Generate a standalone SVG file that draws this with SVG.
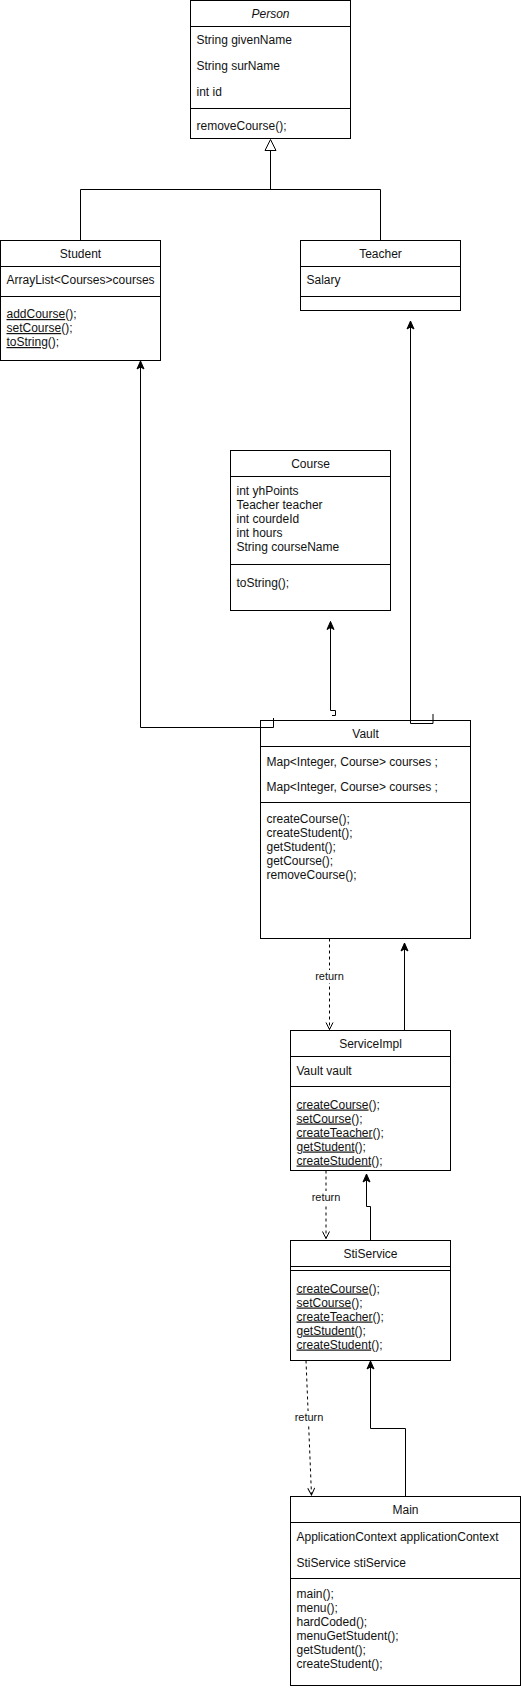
<svg xmlns="http://www.w3.org/2000/svg" width="521" height="1690" viewBox="0 0 521 1690">
<style>
  .box{fill:#fff;stroke:#000;stroke-width:1}
  .div{stroke:#000;stroke-width:1;fill:none}
  text{font-family:"Liberation Sans",Arial,sans-serif;font-size:12px;fill:#111}
  .hd{text-anchor:middle}
  .it{font-style:italic}
  .u{text-decoration:underline}
  .edge{fill:none;stroke:#000;stroke-width:1}
  .dash{stroke-dasharray:3 3}
  .lbl{font-size:11px;text-anchor:middle}
</style>
<defs>
  <marker id="arr" markerUnits="userSpaceOnUse" markerWidth="10" markerHeight="10" viewBox="0 0 10 10" refX="9" refY="5" orient="auto">
    <path d="M1,1.5 L9,5 L1,8.5 L3,5 Z" fill="#000" stroke="#000" stroke-width="1"/>
  </marker>
  <marker id="open" markerUnits="userSpaceOnUse" markerWidth="10" markerHeight="10" viewBox="0 0 10 10" refX="9" refY="5" orient="auto">
    <path d="M2,1.5 L9,5 L2,8.5" fill="none" stroke="#000" stroke-width="1"/>
  </marker>
</defs>
<rect width="521" height="1690" fill="#fff"/>

<g id="person">
  <rect class="box" x="190.5" y="0.5" width="160" height="138"/>
  <path class="div" d="M190.5,26.5 H350.5 M190.5,108.5 H350.5"/>
  <text class="hd it" x="270.5" y="17.5">Person</text>
  <text x="196.5" y="43.5">String givenName</text>
  <text x="196.5" y="69.5">String surName</text>
  <text x="196.5" y="95.5">int id</text>
  <text x="196.5" y="130">removeCourse();</text>
</g>

<g id="student">
  <rect class="box" x="0.5" y="240.5" width="160" height="120"/>
  <path class="div" d="M0.5,266.5 H160.5 M0.5,296.5 H160.5"/>
  <text class="hd" x="80.5" y="257.5">Student</text>
  <text x="6.5" y="284">ArrayList&lt;Courses&gt;courses</text>
  <text x="6.5" y="318"><tspan class="u">addCourse</tspan>();</text>
  <text x="6.5" y="332"><tspan class="u">setCourse</tspan>();</text>
  <text x="6.5" y="346"><tspan class="u">toString</tspan>();</text>
</g>

<g id="teacher">
  <rect class="box" x="300.5" y="240.5" width="160" height="70"/>
  <path class="div" d="M300.5,266.5 H460.5 M300.5,296.5 H460.5"/>
  <text class="hd" x="380.5" y="257.5">Teacher</text>
  <text x="306.5" y="284">Salary</text>
</g>

<g id="course">
  <rect class="box" x="230.5" y="450.5" width="160" height="160"/>
  <path class="div" d="M230.5,476.5 H390.5 M230.5,564.5 H390.5"/>
  <text class="hd" x="310.5" y="467.5">Course</text>
  <text x="236.5" y="494.5">int yhPoints</text>
  <text x="236.5" y="508.5">Teacher teacher</text>
  <text x="236.5" y="522.5">int courdeId</text>
  <text x="236.5" y="536.5">int hours</text>
  <text x="236.5" y="550.5">String courseName</text>
  <text x="236.5" y="586.5">toString();</text>
</g>

<g id="vault">
  <rect class="box" x="260.5" y="720.5" width="210" height="218"/>
  <path class="div" d="M260.5,746.5 H470.5 M260.5,802.5 H470.5"/>
  <text class="hd" x="365.5" y="737.5">Vault</text>
  <text x="266.5" y="766">Map&lt;Integer, Course&gt; courses ;</text>
  <text x="266.5" y="791">Map&lt;Integer, Course&gt; courses ;</text>
  <text x="266.5" y="822.5">createCourse();</text>
  <text x="266.5" y="836.5">createStudent();</text>
  <text x="266.5" y="850.5">getStudent();</text>
  <text x="266.5" y="864.5">getCourse();</text>
  <text x="266.5" y="878.5">removeCourse();</text>
</g>

<g id="serviceimpl">
  <rect class="box" x="290.5" y="1030.5" width="160" height="140"/>
  <path class="div" d="M290.5,1056.5 H450.5 M290.5,1086.5 H450.5"/>
  <text class="hd" x="370.5" y="1047.5">ServiceImpl</text>
  <text x="296.5" y="1074.5">Vault vault</text>
  <text x="296.5" y="1108.5"><tspan class="u">createCourse</tspan>();</text>
  <text x="296.5" y="1122.5"><tspan class="u">setCourse</tspan>();</text>
  <text x="296.5" y="1136.5"><tspan class="u">createTeacher</tspan>();</text>
  <text x="296.5" y="1150.5"><tspan class="u">getStudent</tspan>();</text>
  <text x="296.5" y="1164.5"><tspan class="u">createStudent</tspan>();</text>
</g>

<g id="stiservice">
  <rect class="box" x="290.5" y="1240.5" width="160" height="120"/>
  <path class="div" d="M290.5,1266.5 H450.5 M290.5,1270.5 H450.5"/>
  <text class="hd" x="370.5" y="1257.5">StiService</text>
  <text x="296.5" y="1292.5"><tspan class="u">createCourse</tspan>();</text>
  <text x="296.5" y="1306.5"><tspan class="u">setCourse</tspan>();</text>
  <text x="296.5" y="1320.5"><tspan class="u">createTeacher</tspan>();</text>
  <text x="296.5" y="1334.5"><tspan class="u">getStudent</tspan>();</text>
  <text x="296.5" y="1348.5"><tspan class="u">createStudent</tspan>();</text>
</g>

<g id="main">
  <rect class="box" x="290.5" y="1496.5" width="230" height="189"/>
  <path class="div" d="M290.5,1522.5 H520.5 M290.5,1578.5 H520.5"/>
  <text class="hd" x="405.5" y="1513.5">Main</text>
  <text x="296.5" y="1541">ApplicationContext applicationContext</text>
  <text x="296.5" y="1567">StiService stiService</text>
  <text x="296.5" y="1597.5">main();</text>
  <text x="296.5" y="1611.5">menu();</text>
  <text x="296.5" y="1625.5">hardCoded();</text>
  <text x="296.5" y="1639.5">menuGetStudent();</text>
  <text x="296.5" y="1653.5">getStudent();</text>
  <text x="296.5" y="1667.5">createStudent();</text>
</g>

<g id="connectors">
  <path class="edge" d="M270.5,150.5 V189.5 M80.5,240.5 V189.5 H380.5 V240.5"/>
  <polygon points="270.5,139.5 265,150.5 276,150.5" fill="#fff" stroke="#000" stroke-width="1"/>
  <path class="edge" d="M273.5,718 V727.5 H140.5 V361" marker-end="url(#arr)"/>
  <path class="edge" d="M433,714 V723.5 H410.5 V321" marker-end="url(#arr)"/>
  <path class="edge" d="M332,715.5 H335.5 V710.5 H330.5 V621.5" marker-end="url(#arr)"/>
  <path class="edge dash" d="M329.5,938.5 V1029.5" marker-end="url(#open)"/>
  <path class="edge" d="M404.5,1030.5 V943" marker-end="url(#arr)"/>
  <path class="edge dash" d="M326,1170.5 V1238.5" marker-end="url(#open)"/>
  <path class="edge" d="M370.5,1240.5 V1206.5 H366.5 V1174" marker-end="url(#arr)"/>
  <path class="edge dash" d="M306,1360.5 L311.5,1495" marker-end="url(#open)"/>
  <path class="edge" d="M405.5,1496.5 V1428.5 H370.5 V1361" marker-end="url(#arr)"/>
  <rect x="313" y="970" width="33" height="13" fill="#fff"/>
  <text class="lbl" x="329.5" y="980">return</text>
  <rect x="309.5" y="1191" width="33" height="13" fill="#fff"/>
  <text class="lbl" x="326" y="1201">return</text>
  <rect x="292.5" y="1411" width="33" height="13" fill="#fff"/>
  <text class="lbl" x="309" y="1421">return</text>
</g>
</svg>
